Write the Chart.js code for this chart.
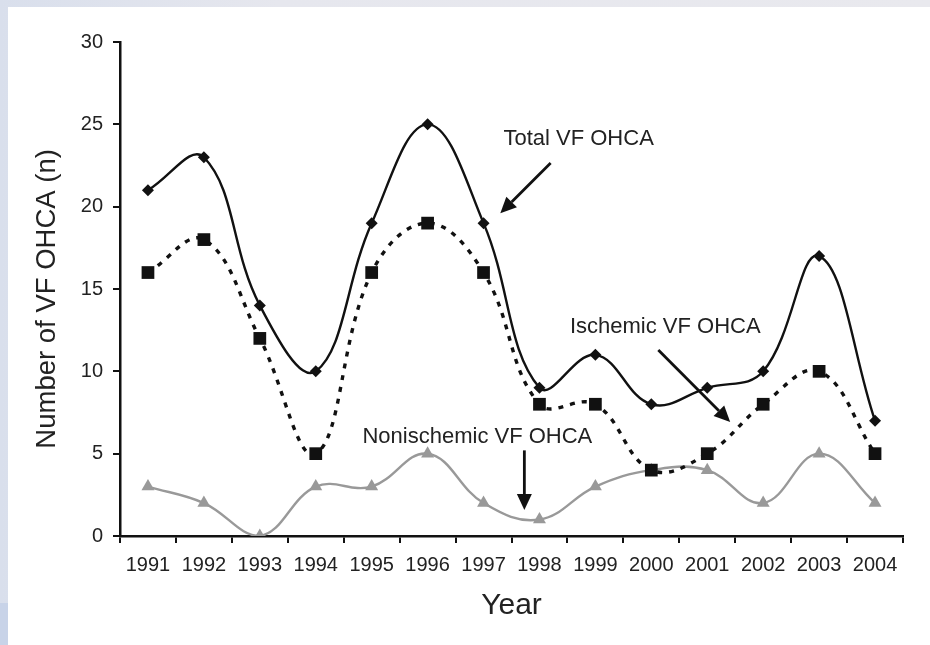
<!DOCTYPE html>
<html>
<head>
<meta charset="utf-8">
<script src="https://cdn.jsdelivr.net/npm/chart.js@4.4.0/dist/chart.umd.min.js"></script>
<style>
  html, body { margin: 0; padding: 0; width: 930px; height: 645px; overflow: hidden; }
  body { background: linear-gradient(90deg, #d9dfec 0%, #e6e7ee 30%, #e9e9ee 100%); position: relative; }
  #leftlow { position: absolute; left: 0; top: 603px; width: 9px; height: 42px; background: #c8d3e8; }
  #panel { position: absolute; left: 8px; top: 7px; width: 922px; height: 638px; background: #ffffff; }
  #wrap { position: absolute; left: 0; top: 0; width: 930px; height: 645px; }
</style>
</head>
<body>
<div id="leftlow"></div>
<div id="panel"></div>
<div id="wrap"><canvas id="c" width="930" height="645"></canvas></div>
<script>
const years = ['1991','1992','1993','1994','1995','1996','1997','1998','1999','2000','2001','2002','2003','2004'];
const totalVF = [21, 23, 14, 10, 19, 25, 19, 9, 11, 8, 9, 10, 17, 7];
const ischemicVF = [16, 18, 12, 5, 16, 19, 16, 8, 8, 4, 5, 8, 10, 5];
const nonischemicVF = [3, 2, 0, 3, 3, 5, 2, 1, 3, 4, 4, 2, 5, 2];
const yTicks = [0, 5, 10, 15, 20, 25, 30];
const yTitle = 'Number of VF OHCA (n)';

// annotations: label position and arrow ends in (category index, value) units
const annotations = [
  { text: 'Total VF OHCA', at: [7.70, 24.1], from: [7.20, 22.65], to: [6.30, 19.6] },
  { text: 'Ischemic VF OHCA', at: [9.25, 12.7], from: [9.125, 11.3], to: [10.41, 6.92] },
  { text: 'Nonischemic VF OHCA', at: [5.89, 6.0], from: [6.73, 5.2], to: [6.73, 1.58] }
];

const FONT = "'Liberation Sans', Arial, Helvetica, sans-serif";
const TEXT = '#222222';
const INK = '#111111';

const annotPlugin = {
  id: 'annot',
  afterDatasetsDraw(chart) {
    const ctx = chart.ctx, xs = chart.scales.x, ys = chart.scales.y;
    ctx.save();
    // y axis title (slightly below the centre of the axis, as in the source)
    ctx.save();
    ctx.translate(ys.left + 47, ys.getPixelForValue(14.4));
    ctx.rotate(-Math.PI / 2);
    ctx.font = '27.5px ' + FONT;
    ctx.fillStyle = TEXT;
    ctx.textAlign = 'center';
    ctx.textBaseline = 'middle';
    ctx.fillText(yTitle, 0, 0);
    ctx.restore();

    ctx.font = '22px ' + FONT;
    ctx.textAlign = 'center';
    ctx.textBaseline = 'middle';
    annotations.forEach(a => {
      ctx.fillStyle = TEXT;
      ctx.fillText(a.text, xs.getPixelForValue(a.at[0]), ys.getPixelForValue(a.at[1]));
      const x1 = xs.getPixelForValue(a.from[0]), y1 = ys.getPixelForValue(a.from[1]);
      const x2 = xs.getPixelForValue(a.to[0]), y2 = ys.getPixelForValue(a.to[1]);
      const ang = Math.atan2(y2 - y1, x2 - x1);
      const hl = 16, hw = 7.5;
      const bx = x2 - hl * Math.cos(ang), by = y2 - hl * Math.sin(ang);
      ctx.strokeStyle = INK;
      ctx.lineWidth = 2.8;
      ctx.beginPath();
      ctx.moveTo(x1, y1);
      ctx.lineTo(bx, by);
      ctx.stroke();
      ctx.fillStyle = INK;
      ctx.beginPath();
      ctx.moveTo(x2, y2);
      ctx.lineTo(bx + hw * Math.sin(ang), by - hw * Math.cos(ang));
      ctx.lineTo(bx - hw * Math.sin(ang), by + hw * Math.cos(ang));
      ctx.closePath();
      ctx.fill();
    });
    ctx.restore();
  }
};

new Chart(document.getElementById('c'), {
  type: 'line',
  data: {
    labels: years,
    datasets: [
      {
        label: 'Total VF OHCA',
        data: totalVF,
        borderColor: INK,
        backgroundColor: INK,
        borderWidth: 2.4,
        pointStyle: 'rectRot',
        pointRadius: 6,
        pointBorderWidth: 0,
        tension: 0.4,
        fill: false
      },
      {
        label: 'Ischemic VF OHCA',
        data: ischemicVF,
        borderColor: INK,
        backgroundColor: INK,
        borderWidth: 3.4,
        borderDash: [5, 7],
        pointStyle: 'rect',
        pointRadius: 9,
        pointBorderWidth: 0,
        tension: 0.4,
        fill: false
      },
      {
        label: 'Nonischemic VF OHCA',
        data: nonischemicVF,
        borderColor: '#999999',
        backgroundColor: '#999999',
        borderWidth: 2.4,
        pointStyle: 'triangle',
        pointRadius: 7.5,
        pointBorderWidth: 0,
        tension: 0.4,
        fill: false
      }
    ]
  },
  options: {
    responsive: false,
    animation: false,
    layout: { padding: { left: 0, top: 42, right: 27, bottom: 0 } },
    plugins: { legend: { display: false }, tooltip: { enabled: false } },
    scales: {
      x: {
        type: 'category',
        offset: true,
        afterFit(s) { s.height = 109; },
        grid: { offset: true, drawOnChartArea: false, drawTicks: true, tickLength: 7, color: INK, lineWidth: 2 },
        border: { display: true, color: INK, width: 2.5 },
        ticks: { color: TEXT, font: { family: FONT, size: 20 }, padding: 10, maxRotation: 0, autoSkip: false },
        title: { display: true, text: 'Year', color: TEXT, font: { family: FONT, size: 30 }, padding: { top: 0, bottom: 21 } }
      },
      y: {
        min: 0, max: 30,
        afterFit(s) { s.width = 120; },
        afterBuildTicks(s) { s.ticks = yTicks.map(v => ({ value: v })); },
        grid: { drawOnChartArea: false, drawTicks: true, tickLength: 7, color: INK, lineWidth: 2 },
        border: { display: true, color: INK, width: 2.5 },
        ticks: { color: TEXT, font: { family: FONT, size: 20 }, padding: 10 },
        title: { display: false }
      }
    }
  },
  plugins: [annotPlugin]
});
</script>
</body>
</html>
